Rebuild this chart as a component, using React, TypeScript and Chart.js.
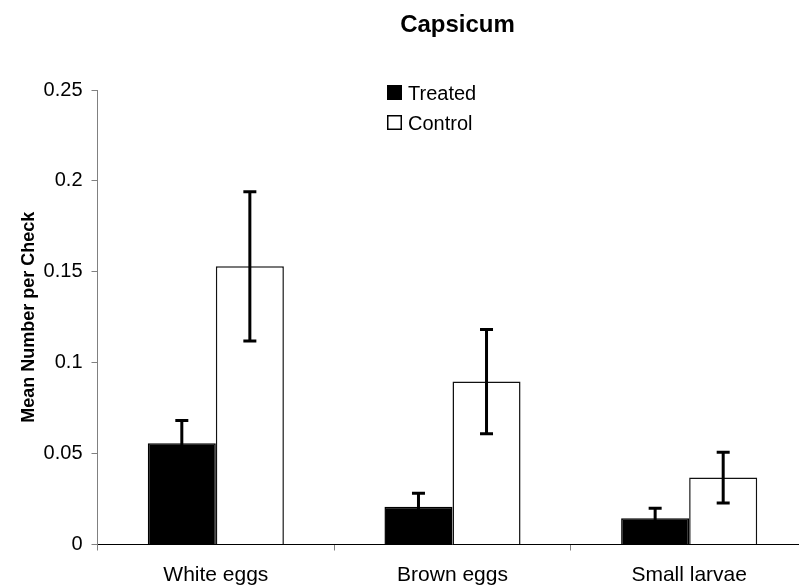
import React, { useEffect, useRef } from "react";
import { Chart, registerables } from "chart.js";

Chart.register(...registerables);

const categories = ["White eggs", "Brown eggs", "Small larvae"];
const seriesNames = ["Treated", "Control"];
const treated = [0.0557, 0.0208, 0.0144];
const treatedErr = [0.0125, 0.0074, 0.0055];
const control = [0.153, 0.0896, 0.0368];
const controlErr = [0.041, 0.0287, 0.014];
const yTicks = [0, 0.05, 0.1, 0.15, 0.2, 0.25];
const chartTitle = "Capsicum";
const yTitle = "Mean Number per Check";

const FONT = "'Liberation Sans', Arial, sans-serif";

export default function App() {
  const ref = useRef<HTMLCanvasElement>(null);

  useEffect(() => {
    if (!ref.current) return;
    const errs = [treatedErr, controlErr];

    const errorBars = {
      id: "errorBars",
      afterDatasetsDraw(chart: any) {
        const ctx = chart.ctx;
        const y = chart.scales.y;
        ctx.save();
        ctx.strokeStyle = "#000";
        ctx.lineWidth = 3;
        ctx.lineCap = "butt";
        chart.data.datasets.forEach((ds: any, di: number) => {
          const meta = chart.getDatasetMeta(di);
          meta.data.forEach((bar: any, i: number) => {
            const v = ds.data[i];
            const e = errs[di][i];
            const x = bar.x;
            const yt = y.getPixelForValue(v + e);
            const yb = y.getPixelForValue(v - e);
            ctx.beginPath();
            ctx.moveTo(x, yt);
            ctx.lineTo(x, yb);
            ctx.moveTo(x - 6.5, yt);
            ctx.lineTo(x + 6.5, yt);
            ctx.moveTo(x - 6.5, yb);
            ctx.lineTo(x + 6.5, yb);
            ctx.stroke();
          });
        });
        ctx.restore();
      },
    };

    const decorations = {
      id: "decorations",
      afterDraw(chart: any) {
        const ctx = chart.ctx;
        const a = chart.chartArea;
        ctx.save();
        // title
        ctx.fillStyle = "#000";
        ctx.font = `bold 24px ${FONT}`;
        ctx.textAlign = "center";
        ctx.textBaseline = "alphabetic";
        ctx.fillText(chartTitle, (a.left + a.right) / 2 + 5, 32);
        // legend
        const lx = a.left + 289.5;
        ctx.font = `20px ${FONT}`;
        ctx.textAlign = "left";
        const rows = [
          { name: seriesNames[0], fill: "#000", y: 85 },
          { name: seriesNames[1], fill: "#fff", y: 115 },
        ];
        rows.forEach((r) => {
          ctx.fillStyle = r.fill;
          ctx.fillRect(lx, r.y, 15, 15);
          ctx.strokeStyle = "#000";
          ctx.lineWidth = 1.5;
          ctx.strokeRect(lx + 0.75, r.y + 0.75, 13.5, 13.5);
          ctx.fillStyle = "#000";
          ctx.fillText(r.name, lx + 21, r.y + 14.5);
        });
        ctx.restore();
      },
    };

    const chart = new Chart(ref.current, {
      type: "bar",
      data: {
        labels: categories,
        datasets: [
          {
            label: seriesNames[0],
            data: treated,
            backgroundColor: "#000",
            borderColor: "#000",
            borderWidth: 1.5,
            categoryPercentage: 0.575,
            barPercentage: 1,
          },
          {
            label: seriesNames[1],
            data: control,
            backgroundColor: "#fff",
            borderColor: "#111",
            borderWidth: 1.5,
            categoryPercentage: 0.575,
            barPercentage: 1,
          },
        ],
      },
      options: {
        animation: false,
        responsive: true,
        maintainAspectRatio: false,
        devicePixelRatio: 1,
        layout: { padding: { left: 8, top: 90, right: 12.5, bottom: 0 } },
        plugins: {
          legend: { display: false },
          title: { display: false },
          tooltip: { enabled: false },
        },
        scales: {
          x: {
            ticks: {
              color: "#000",
              font: { family: FONT, size: 21 },
              padding: 12,
              maxRotation: 0,
              autoSkip: false,
            },
            grid: {
              drawOnChartArea: false,
              drawTicks: true,
              tickLength: 6,
              color: "#808080",
              offset: true,
            },
            border: { color: "#000", width: 1 },
            afterFit: (s: any) => {
              s.height = 40.5;
            },
          },
          y: {
            min: 0,
            max: 0.25,
            afterBuildTicks: (s: any) => {
              s.ticks = yTicks.map((v) => ({ value: v }));
            },
            ticks: {
              color: "#000",
              font: { family: FONT, size: 20 },
              padding: 9,
              callback: (v: any) => String(v),
            },
            grid: {
              drawOnChartArea: false,
              drawTicks: true,
              tickLength: 6,
              color: "#808080",
            },
            border: { color: "#808080", width: 1 },
            title: {
              display: true,
              text: yTitle,
              color: "#000",
              font: { family: FONT, size: 18, weight: "bold" },
              padding: { top: 10, bottom: 0 },
            },
            afterFit: (s: any) => {
              s.width = 89.5;
            },
          },
        },
      },
      plugins: [errorBars, decorations],
    });
    return () => chart.destroy();
  }, []);

  return (
    <div
      style={{
        position: "fixed",
        left: 0,
        top: 0,
        width: 799,
        height: 585,
        overflow: "hidden",
        background: "#fff",
      }}
    >
      <div style={{ position: "relative", width: 820, height: 585 }}>
        <canvas ref={ref} />
      </div>
    </div>
  );
}
